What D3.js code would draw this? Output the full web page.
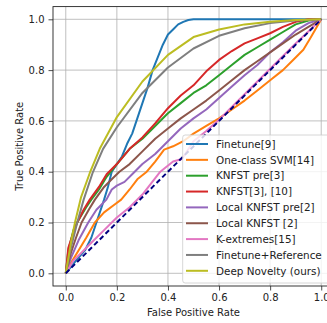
<!DOCTYPE html>
<html><head><meta charset="utf-8">
<script src="https://cdn.jsdelivr.net/npm/d3@7"></script>
<style>body{margin:0;background:#fff;overflow:hidden}svg{display:block}</style>
</head><body>
<svg id="c" width="327" height="323"></svg>
<script>
const seriesNames = ["Finetune[9]","One-class SVM[14]","KNFST pre[3]","KNFST[3], [10]","Local KNFST pre[2]","Local KNFST [2]","K-extremes[15]","Finetune+Reference","Deep Novelty (ours)"];
const colors = ["#1f77b4","#ff7f0e","#2ca02c","#d62728","#9467bd","#8c564b","#e377c2","#7f7f7f","#bcbd22"];
const ticks = [0.0,0.2,0.4,0.6,0.8,1.0];
const finetune = [[0,0],[0.04,0.05],[0.075,0.09],[0.1,0.14],[0.12,0.2],[0.15,0.29],[0.165,0.34],[0.18,0.4],[0.2,0.43],[0.22,0.46],[0.24,0.51],[0.26,0.55],[0.28,0.61],[0.3,0.67],[0.32,0.73],[0.34,0.8],[0.36,0.85],[0.38,0.9],[0.4,0.94],[0.42,0.96],[0.44,0.98],[0.46,0.99],[0.48,0.997],[0.5,1],[0.6,1],[1,1]];
const ocsvm = [[0,0],[0.02,0.04],[0.05,0.09],[0.08,0.14],[0.114,0.2],[0.15,0.24],[0.19,0.27],[0.217,0.29],[0.25,0.33],[0.28,0.37],[0.317,0.4],[0.35,0.44],[0.385,0.487],[0.42,0.5],[0.46,0.52],[0.5,0.55],[0.55,0.58],[0.6,0.61],[0.65,0.645],[0.7,0.68],[0.75,0.72],[0.8,0.76],[0.85,0.8],[0.89,0.84],[0.93,0.88],[0.96,0.93],[1,1]];
const knfstPre = [[0,0],[0.01,0.09],[0.03,0.17],[0.05,0.21],[0.08,0.26],[0.1,0.29],[0.13,0.33],[0.16,0.38],[0.2,0.43],[0.25,0.49],[0.3,0.53],[0.35,0.58],[0.4,0.63],[0.45,0.67],[0.5,0.71],[0.55,0.74],[0.6,0.78],[0.65,0.82],[0.7,0.86],[0.75,0.89],[0.8,0.92],[0.85,0.95],[0.9,0.98],[0.95,0.995],[1,1]];
const knfst = [[0,0],[0.01,0.1],[0.03,0.16],[0.045,0.2],[0.07,0.25],[0.094,0.29],[0.13,0.34],[0.16,0.39],[0.2,0.43],[0.25,0.49],[0.3,0.535],[0.35,0.59],[0.4,0.65],[0.45,0.7],[0.5,0.74],[0.55,0.795],[0.6,0.84],[0.65,0.875],[0.7,0.905],[0.75,0.925],[0.8,0.945],[0.85,0.97],[0.9,0.99],[0.95,1],[1,1]];
const localPre = [[0,0],[0.02,0.06],[0.05,0.13],[0.088,0.2],[0.12,0.25],[0.159,0.29],[0.18,0.33],[0.2,0.345],[0.23,0.36],[0.26,0.39],[0.3,0.43],[0.35,0.47],[0.4,0.52],[0.45,0.57],[0.5,0.61],[0.55,0.645],[0.6,0.69],[0.65,0.735],[0.7,0.78],[0.75,0.82],[0.8,0.87],[0.85,0.91],[0.9,0.955],[0.95,0.985],[1,1]];
const local = [[0,0],[0.02,0.08],[0.04,0.14],[0.062,0.2],[0.09,0.25],[0.114,0.29],[0.15,0.34],[0.18,0.37],[0.21,0.4],[0.25,0.43],[0.3,0.48],[0.35,0.53],[0.4,0.57],[0.45,0.61],[0.5,0.645],[0.55,0.68],[0.6,0.72],[0.65,0.76],[0.7,0.8],[0.75,0.835],[0.8,0.87],[0.85,0.905],[0.9,0.94],[0.95,0.97],[1,1]];
const kext = [[0,0],[0.03,0.05],[0.07,0.09],[0.1,0.12],[0.15,0.17],[0.2,0.22],[0.25,0.26],[0.3,0.31],[0.37,0.4],[0.42,0.44],[0.455,0.45],[0.5,0.52],[0.55,0.56],[0.6,0.605],[0.7,0.705],[0.8,0.805],[0.9,0.905],[1,1]];
const ftRef = [[0,0],[0.02,0.1],[0.045,0.2],[0.07,0.29],[0.105,0.395],[0.146,0.49],[0.2,0.575],[0.3,0.71],[0.4,0.81],[0.5,0.885],[0.6,0.935],[0.7,0.965],[0.8,0.985],[0.9,0.995],[1,1]];
const deepNovelty = [[0,0],[0.02,0.12],[0.036,0.2],[0.06,0.3],[0.094,0.395],[0.133,0.49],[0.2,0.615],[0.3,0.755],[0.4,0.86],[0.5,0.93],[0.6,0.96],[0.7,0.98],[0.8,0.99],[0.9,0.997],[1,1]];
const seriesValues = [finetune, ocsvm, knfstPre, knfst, localPre, local, kext, ftRef, deepNovelty];
const diagonal = [[0,0],[1,1]];

const svg = d3.select("#c");
const L = 53, R = 334, T = 6.6, B = 286;
const x = d3.scaleLinear().domain([-0.05,1.05]).range([L,R]);
const y = d3.scaleLinear().domain([-0.05,1.05]).range([B,T]);
const font = "DejaVu Sans, sans-serif";

// grid
const g = svg.append("g");
g.selectAll(".gx").data(ticks).enter().append("line")
  .attr("x1",d=>x(d)).attr("x2",d=>x(d)).attr("y1",T).attr("y2",B)
  .attr("stroke","#b0b0b0").attr("stroke-width",0.8);
g.selectAll(".gy").data(ticks).enter().append("line")
  .attr("y1",d=>y(d)).attr("y2",d=>y(d)).attr("x1",L).attr("x2",R)
  .attr("stroke","#b0b0b0").attr("stroke-width",0.8);

const line = d3.line().x(d=>x(d[0])).y(d=>y(d[1]));
seriesValues.forEach((s,i)=>{
  svg.append("path").attr("d",line(s)).attr("fill","none")
    .attr("stroke",colors[i]).attr("stroke-width",2).attr("stroke-linejoin","round");
});
svg.append("path").attr("d",line(diagonal)).attr("fill","none")
  .attr("stroke","#000080").attr("stroke-width",2).attr("stroke-dasharray","5,3");

// axes
const xa = svg.append("g").attr("transform",`translate(0,${B})`)
  .call(d3.axisBottom(x).tickValues(ticks).tickFormat(d3.format(".1f")).tickSize(4.5).tickPadding(3.5));
const ya = svg.append("g").attr("transform",`translate(${L},0)`)
  .call(d3.axisLeft(y).tickValues(ticks).tickFormat(d3.format(".1f")).tickSize(4.5).tickPadding(4));
[xa,ya].forEach(a=>{
  a.select(".domain").remove();
  a.selectAll("text").attr("font-family",font).attr("font-size",10).attr("fill","#222");
  a.selectAll("line").attr("stroke","#222").attr("stroke-width",0.8);
});
svg.append("rect").attr("x",L).attr("y",T).attr("width",R-L).attr("height",B-T)
  .attr("fill","none").attr("stroke","#222").attr("stroke-width",0.9);

svg.append("text").attr("x",(L+R)/2).attr("y",316).attr("text-anchor","middle")
  .attr("font-family",font).attr("font-size",10).attr("fill","#222").text("False Positive Rate");
svg.append("text").attr("transform",`translate(23,${(T+B)/2}) rotate(-90)`).attr("text-anchor","middle")
  .attr("font-family",font).attr("font-size",10).attr("fill","#222").text("True Positive Rate");

// legend
const lg = svg.append("g");
lg.append("rect").attr("x",182.7).attr("y",135).attr("width",160).attr("height",148).attr("rx",2.5)
  .attr("fill","#fff").attr("fill-opacity",0.8).attr("stroke","#cccccc").attr("stroke-width",0.8);
seriesNames.forEach((n,i)=>{
  const yy = 144 + i*15.85;
  lg.append("line").attr("x1",186).attr("x2",208).attr("y1",yy).attr("y2",yy)
    .attr("stroke",colors[i]).attr("stroke-width",2);
  lg.append("text").attr("x",216).attr("y",yy+3.7).attr("font-family",font).attr("font-size",10.4)
    .attr("fill","#222").text(n);
});
</script>
</body></html>
